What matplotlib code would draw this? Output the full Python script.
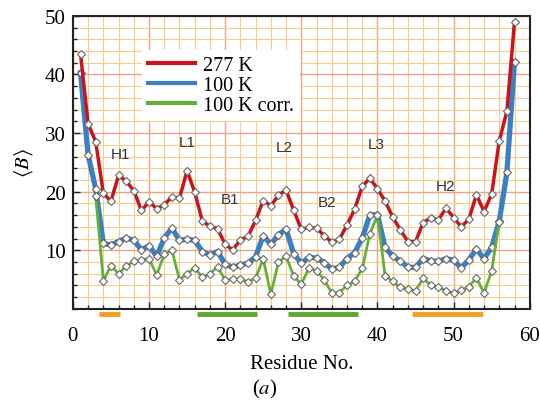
import numpy as np
import matplotlib
matplotlib.use("Agg")
import matplotlib.pyplot as plt
from matplotlib.ticker import MultipleLocator
from matplotlib.lines import Line2D

plt.rcParams['font.family'] = ['Liberation Serif', 'DejaVu Serif']
plt.rcParams['mathtext.fontset'] = 'stix'

residues_red = list(range(1, 59))
b_277 = [43.5, 31.6, 28.5, 19.7, 18.4, 22.8, 21.8, 20.2, 16.8, 18.3,
         17.1, 17.8, 19.1, 18.9, 23.6, 19.9, 15.0, 14.1, 13.7, 11.0,
         10.1, 11.8, 12.4, 15.1, 18.5, 17.6, 19.4, 20.3, 16.8, 13.6,
         13.9, 13.8, 12.5, 11.4, 11.9, 14.3, 17.0, 20.9, 22.3, 20.5,
         18.4, 15.7, 13.5, 11.5, 11.5, 14.7, 15.6, 15.2, 17.2, 15.6,
         14.0, 15.3, 19.5, 16.6, 19.6, 28.7, 33.7, 49.0]
b_100 = [40.3, 26.3, 20.4, 11.2, 10.9, 11.5, 12.1, 11.7, 10.1, 10.8,
         9.0, 12.1, 13.8, 11.7, 11.9, 11.7, 9.8, 9.2, 9.8, 7.6,
         7.1, 7.5, 7.8, 8.9, 12.5, 11.0, 12.7, 13.6, 9.4, 7.8,
         8.8, 8.7, 7.9, 6.8, 7.1, 8.6, 9.6, 12.1, 16.0, 16.1,
         10.5, 9.0, 8.2, 7.1, 7.1, 8.6, 8.2, 8.1, 8.6, 8.3,
         7.0, 8.4, 10.2, 8.6, 10.5, 15.0, 23.3, 42.2]
residues_corr = list(range(3, 57))
b_100_corr = [19.3, 4.8, 7.4, 6.0, 7.3, 8.1, 8.4, 8.6, 5.8, 9.3,
              10.0, 5.0, 6.0, 7.0, 5.4, 6.0, 7.2, 4.9, 5.1, 5.1,
              4.6, 5.3, 8.5, 2.5, 8.0, 9.0, 5.6, 4.2, 7.0, 6.5,
              5.0, 2.7, 2.8, 4.0, 4.7, 6.9, 12.8, 16.0, 5.7, 4.7,
              3.7, 3.4, 3.1, 5.2, 4.1, 3.7, 3.1, 2.7, 3.2, 3.8,
              5.3, 2.7, 6.5, 14.9]

region_names = ['H1', 'L1', 'L2', 'B1', 'B2', 'L3', 'H2']
region_x = [6.2, 15.0, 27.8, 20.7, 33.4, 39.9, 49.0]
region_y = [26.5, 28.5, 27.7, 18.8, 18.3, 28.2, 20.9]

sse_start = [3.4, 16.3, 28.3, 44.6]
sse_end = [6.2, 24.2, 37.5, 53.9]
sse_color = ['#f0a020', '#5aaa30', '#5aaa30', '#f0a020']

fig = plt.figure(figsize=(5.4, 4.02), dpi=100)
ax = fig.add_axes([0.135, 0.229, 0.846, 0.729])

ax.set_xlim(0, 60)
ax.set_ylim(0, 50)
ax.xaxis.set_major_locator(MultipleLocator(10))
ax.xaxis.set_minor_locator(MultipleLocator(2))
ax.yaxis.set_major_locator(MultipleLocator(10))
ax.yaxis.set_minor_locator(MultipleLocator(2))
ax.grid(which='minor', color='#f3cf8a', lw=0.8, zorder=0)
ax.grid(which='major', color='#e7a58a', lw=1.0, zorder=0)
ax.set_axisbelow(True)
ax.tick_params(which='both', direction='in', top=False, right=False,
               labelsize=15, color='#222222')
ax.tick_params(which='major', length=5, width=1)
ax.tick_params(which='minor', length=3, width=1)
ax.tick_params(axis='x', which='major', pad=12)
ax.tick_params(axis='y', which='major', pad=5)
ax.set_yticks([10, 20, 30, 40, 50])
for s in ax.spines.values():
    s.set_linewidth(1.5)
    s.set_color('#222222')

mk = dict(marker='D', markersize=4.5, markerfacecolor='white',
          markeredgecolor='#666666', markeredgewidth=0.8)
ax.plot(residues_corr, b_100_corr, color='#66b03a', lw=2.0, zorder=3, **mk)
ax.plot(residues_red, b_100, color='#3b80c2', lw=3.8, zorder=2, **mk)
ax.plot(residues_red, b_277, color='#c8141e', lw=2.5, zorder=4, **mk)

for n, x, y in zip(region_names, region_x, region_y):
    ax.text(x, y, n, ha='center', va='center', fontsize=11,
            family=['Liberation Sans', 'DejaVu Sans'], color='#333333', zorder=5)

for s0, s1, c in zip(sse_start, sse_end, sse_color):
    ax.plot([s0, s1], [-0.9, -0.9], color=c, lw=3.5, clip_on=False,
            solid_capstyle='butt', zorder=6)

handles = [Line2D([], [], color='#c8141e', lw=3),
           Line2D([], [], color='#3b80c2', lw=3),
           Line2D([], [], color='#66b03a', lw=3)]
leg = ax.legend(handles, ['277 K', '100 K', '100 K corr.'],
                loc='upper left', bbox_to_anchor=(0.152, 0.884),
                fontsize=14.5, frameon=True, fancybox=False, framealpha=1,
                edgecolor='none', handlelength=2.3, handletextpad=0.4,
                labelspacing=0.05, borderpad=0.3, borderaxespad=0)
leg.set_zorder(7)

ax.set_ylabel(r'$\langle B\rangle$', fontsize=15, labelpad=7)
ax.set_xlabel('Residue No.', fontsize=15, labelpad=7)
fig.text(0.49, 0.03, r'($a$)', ha='center', va='center', fontsize=15)

fig.savefig('out.png', dpi=100)
